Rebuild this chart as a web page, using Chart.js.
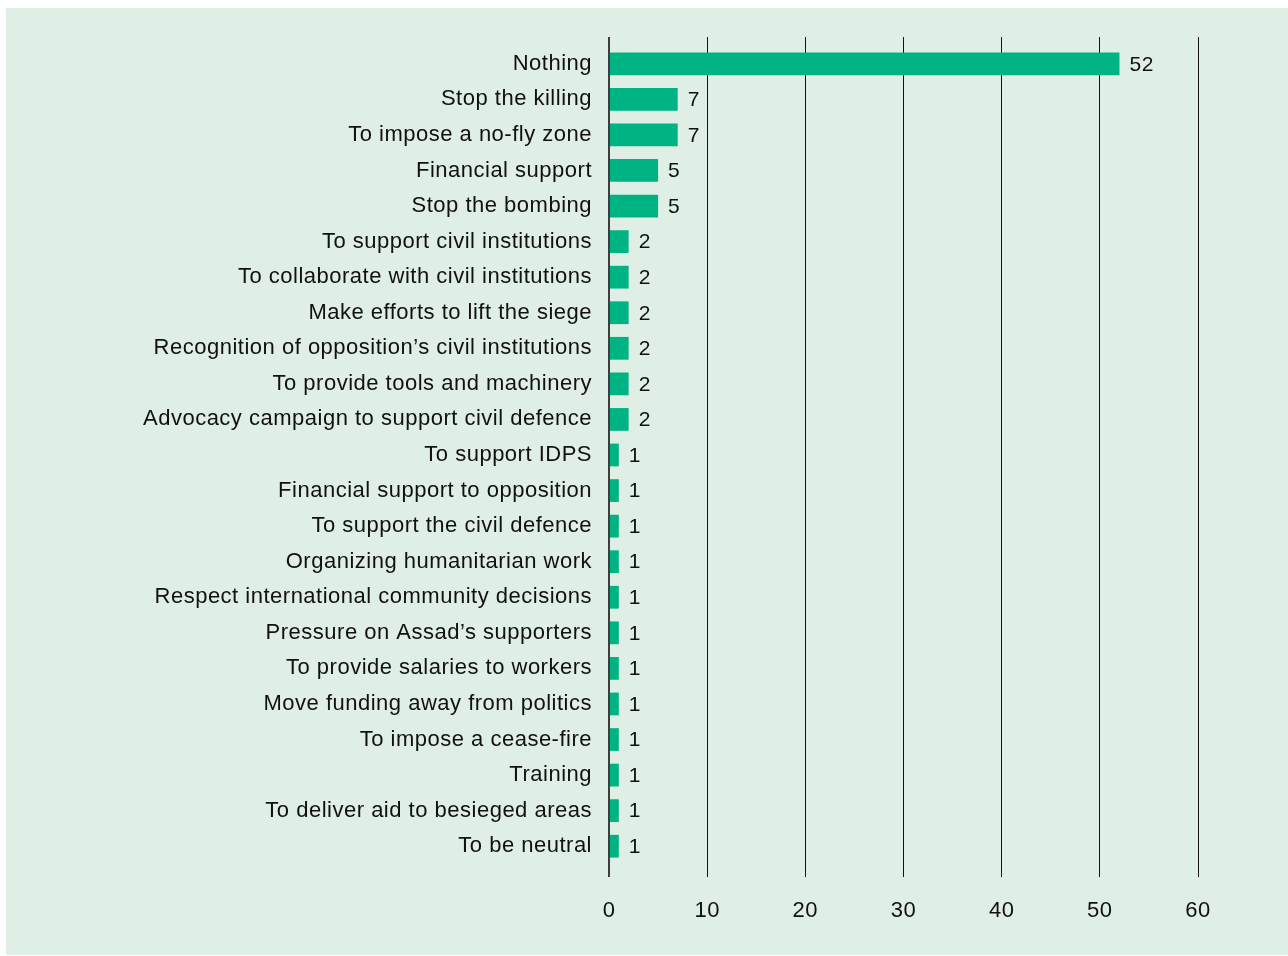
<!DOCTYPE html>
<html>
<head>
<meta charset="utf-8">
<script src="https://cdn.jsdelivr.net/npm/chart.js@4"></script>
<style>
    html, body { margin: 0; padding: 0; background: #ffffff; }
    #panel {
        position: absolute;
        left: 6px;
        top: 8px;
        width: 1282px;
        height: 947px;
        background: #dfefe5;
    }
</style>
</head>
<body>
<div id="panel">
    <canvas id="answersChart" width="1282" height="947"></canvas>
</div>
<script>
// Data
const categories = [
    "Nothing",
    "Stop the killing",
    "To impose a no-fly zone",
    "Financial support",
    "Stop the bombing",
    "To support civil institutions",
    "To collaborate with civil institutions",
    "Make efforts to lift the siege",
    "Recognition of opposition\u2019s civil institutions",
    "To provide tools and machinery",
    "Advocacy campaign to support civil defence",
    "To support IDPS",
    "Financial support to opposition",
    "To support the civil defence",
    "Organizing humanitarian work",
    "Respect international community decisions",
    "Pressure on Assad\u2019s supporters",
    "To provide salaries to workers",
    "Move funding away from politics",
    "To impose a cease-fire",
    "Training",
    "To deliver aid to besieged areas",
    "To be neutral"
];
const counts = [52, 7, 7, 5, 5, 2, 2, 2, 2, 2, 2, 1, 1, 1, 1, 1, 1, 1, 1, 1, 1, 1, 1];
const xTicks = [0, 10, 20, 30, 40, 50, 60];

const FONT = "'Liberation Sans', Arial, Helvetica, sans-serif";
const TEXT = "#111111";
const BAR = "#00b382";

// zero line a bit heavier and greyer than the other gridlines
const gridColor = c => c.tick && c.tick.value === 0 ? "#3d3d3d" : "#111111";
const gridWidth = c => c.tick && c.tick.value === 0 ? 2 : 1;

// the original type is a touch wider than Liberation Sans
const wideText = {
    id: "wideText",
    beforeUpdate(chart) { chart.ctx.letterSpacing = "0.5px"; },
    beforeDraw(chart) { chart.ctx.letterSpacing = "0.5px"; }
};

// value labels at the end of each bar
const barValues = {
    id: "barValues",
    afterDatasetsDraw(chart) {
        const ctx = chart.ctx;
        const meta = chart.getDatasetMeta(0);
        ctx.save();
        ctx.font = "21px " + FONT;
        ctx.fillStyle = TEXT;
        ctx.textAlign = "left";
        ctx.textBaseline = "middle";
        meta.data.forEach((bar, i) => {
            ctx.fillText(String(counts[i]), bar.x + 10, bar.y + 1);
        });
        ctx.restore();
    }
};

new Chart(document.getElementById("answersChart"), {
    type: "bar",
    data: {
        labels: categories,
        datasets: [{
            data: counts,
            backgroundColor: BAR,
            borderWidth: 0,
            barPercentage: 0.64,
            categoryPercentage: 1
        }]
    },
    options: {
        indexAxis: "y",
        responsive: false,
        animation: false,
        layout: { padding: { top: 29, right: 90, bottom: 0, left: 0 } },
        plugins: {
            legend: { display: false },
            tooltip: { enabled: false }
        },
        scales: {
            x: {
                position: "bottom",
                min: 0,
                max: 60,
                afterBuildTicks: s => { s.ticks = xTicks.map(v => ({ value: v })); },
                afterFit: s => { s.height = 91; },
                grid: { color: gridColor, lineWidth: gridWidth, tickLength: 13, drawTicks: true },
                border: { display: false },
                ticks: { color: TEXT, font: { family: FONT, size: 22 }, padding: 21, maxRotation: 0 }
            },
            x2: {
                position: "top",
                axis: "x",
                min: 0,
                max: 60,
                afterBuildTicks: s => { s.ticks = xTicks.map(v => ({ value: v })); },
                grid: { color: gridColor, lineWidth: gridWidth, tickLength: 9, drawOnChartArea: false },
                border: { display: false },
                ticks: { display: false }
            },
            y: {
                afterFit: s => { s.width = 603; },
                grid: { display: false, drawTicks: false },
                border: { display: false },
                ticks: { color: TEXT, font: { family: FONT, size: 22 }, padding: 17, autoSkip: false }
            }
        }
    },
    plugins: [wideText, barValues]
});
</script>
</body>
</html>
